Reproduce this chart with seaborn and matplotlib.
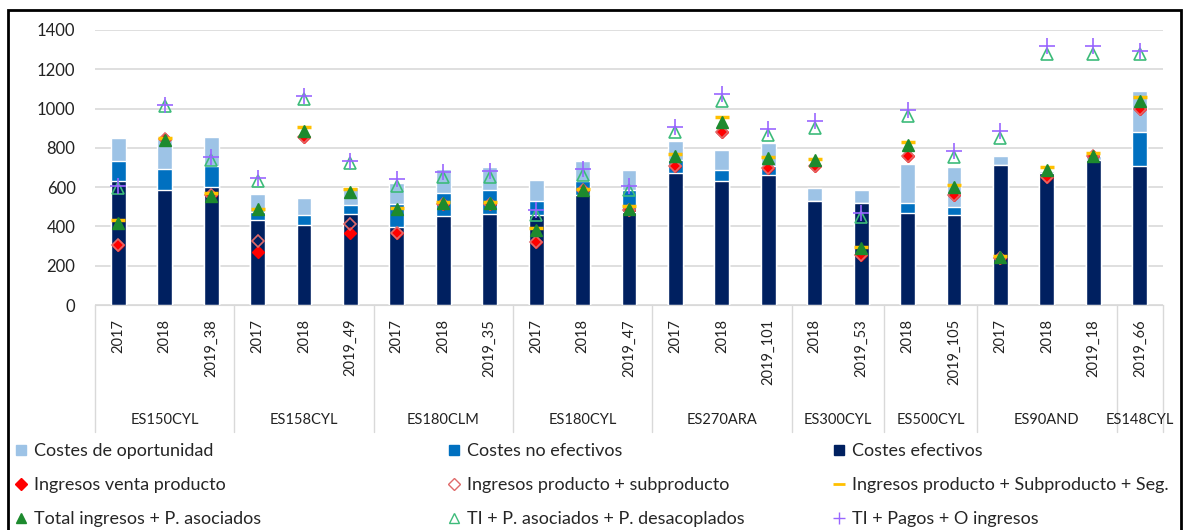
import numpy as np
import pandas as pd
import seaborn as sns
import matplotlib.pyplot as plt
from matplotlib.lines import Line2D
from matplotlib.patches import Rectangle
import matplotlib.transforms as mtransforms

# Datos
grupos = ['ES150CYL', 'ES158CYL', 'ES180CLM', 'ES180CYL', 'ES270ARA',
          'ES300CYL', 'ES500CYL', 'ES90AND', 'ES148CYL']
n_por_grupo = [3, 3, 3, 3, 3, 2, 2, 3, 1]
anios = ['2017', '2018', '2019_38', '2017', '2018', '2019_49',
         '2017', '2018', '2019_35', '2017', '2018', '2019_47',
         '2017', '2018', '2019_101', '2018', '2019_53', '2018', '2019_105',
         '2017', '2018', '2019_18', '2019_66']

costes_efectivos = [631, 583, 600, 435, 407, 463, 397, 452, 465, 457, 562, 473,
                    673, 631, 660, 528, 521, 470, 458, 715, 671, 739, 707]
costes_no_efectivos = [101, 107, 110, 38, 51, 47, 115, 118, 122, 72, 69, 114,
                       63, 57, 50, 0, 0, 47, 42, 0, 0, 0, 176]
costes_oportunidad = [117, 155, 147, 94, 85, 90, 108, 123, 115, 105, 101, 101,
                      98, 103, 114, 69, 64, 202, 205, 46, 12, 18, 208]

ingresos_venta = [304, 843, 562, 271, 857, 368, 369, 515, 515, 321, 585, 486,
                  710, 879, 699, 710, 254, 761, 558, 237, 654, 758, 998]
ingresos_prod_sub = [304, 843, 562, 325, 857, 412, 369, 515, 515, 321, 585, 486,
                     710, 879, 699, 710, 254, 761, 558, 237, 654, 758, 998]
ingresos_seg = [431, 850, 570, 490, 907, 590, 495, 522, 522, 394, 592, 502,
                770, 955, 755, 745, 295, 830, 610, 250, 702, 772, 1057]
total_pa = [420, 838, 555, 487, 887, 577, 490, 519, 519, 384, 587, 490,
            761, 930, 749, 736, 288, 817, 600, 246, 685, 761, 1040]
ti_desacoplados = [598, 1012, 736, 631, 1051, 721, 604, 651, 651, 457, 660, 583,
                   879, 1040, 863, 901, 449, 964, 756, 851, 1277, 1277, 1277]
ti_pagos = [604, 1020, 756, 645, 1065, 735, 639, 676, 680, 482, 693, 604,
            908, 1074, 896, 939, 466, 993, 783, 888, 1319, 1319, 1294]

df = pd.DataFrame({
    'pos': np.arange(len(anios)),
    'efectivos': costes_efectivos,
    'no_efectivos': costes_no_efectivos,
    'oportunidad': costes_oportunidad,
})
df['nivel2'] = df['efectivos'] + df['no_efectivos']
df['nivel3'] = df['nivel2'] + df['oportunidad']

c_oport = '#9dc3e6'
c_noef = '#0070c0'
c_ef = '#002060'

sns.set_style('white')
plt.rcParams['font.family'] = ['Lato', 'DejaVu Sans']

fig = plt.figure(figsize=(11.86, 5.30), dpi=100)
ax = fig.add_axes([95 / 1186, 1 - 305 / 530, (1163 - 95) / 1186, 275 / 530])

ax.yaxis.grid(True, color='#d9d9d9', linewidth=1.2)
ax.set_axisbelow(True)

bw = 0.32
sns.barplot(data=df, x='pos', y='nivel3', color=c_oport, width=bw,
            saturation=1, ax=ax)
sns.barplot(data=df, x='pos', y='nivel2', color=c_noef, width=bw,
            saturation=1, ax=ax)
sns.barplot(data=df, x='pos', y='efectivos', color=c_ef, width=bw,
            saturation=1, ax=ax)

x = df['pos'].values
ax.plot(x, ingresos_venta, 'D', color='#ff0000', markersize=6.5, ls='none')
ax.plot(x, ingresos_prod_sub, 'D', mfc='none', mec='#e06a6a', mew=1.2,
        markersize=6.5, ls='none')
ax.plot(x, ingresos_seg, '_', color='#ffc000', markersize=10, mew=2.5, ls='none')
ax.plot(x, total_pa, '^', color='#1d8a2e', markersize=8, ls='none')
ax.plot(x, ti_desacoplados, '^', mfc='none', mec='#3dbb7a', mew=1.2,
        markersize=9, ls='none')
ax.plot(x, ti_pagos, '+', color='#9966ff', markersize=11, mew=1.2, ls='none')

ax.set_xlim(-0.5, len(anios) - 0.5)
ax.set_ylim(0, 1400)
ax.set_yticks(range(0, 1401, 200))
ax.tick_params(axis='y', length=0, labelsize=12, pad=14, labelcolor='#222222')
ax.set_xticks(x)
ax.set_xticklabels(anios, rotation=90, fontsize=10.5, color='#222222')
ax.tick_params(axis='x', length=0, pad=10)
ax.set_xlabel('')
ax.set_ylabel('')
for s in ['left', 'right', 'top']:
    ax.spines[s].set_visible(False)
ax.spines['bottom'].set_color('#d9d9d9')

# separadores y etiquetas de grupo
trans = mtransforms.blended_transform_factory(ax.transData, ax.transAxes)
bordes = np.concatenate([[0], np.cumsum(n_por_grupo)]) - 0.5
for b in bordes:
    ax.plot([b, b], [0, -0.46], color='#d9d9d9', lw=1, transform=trans,
            clip_on=False)
for g, a, b in zip(grupos, bordes[:-1], bordes[1:]):
    ax.text((a + b) / 2, -0.42, g, transform=trans, ha='center', va='center',
            fontsize=10.5, color='#222222')

# leyenda en tres columnas
h_col1 = [Line2D([], [], marker='s', color=c_oport, ls='none', markersize=7),
          Line2D([], [], marker='D', color='#ff0000', ls='none', markersize=6),
          Line2D([], [], marker='^', color='#1d8a2e', ls='none', markersize=7)]
l_col1 = ['Costes de oportunidad', 'Ingresos venta producto',
          'Total ingresos + P. asociados']
h_col2 = [Line2D([], [], marker='s', color=c_noef, ls='none', markersize=7),
          Line2D([], [], marker='D', mfc='none', mec='#e06a6a', ls='none',
                 markersize=6),
          Line2D([], [], marker='^', mfc='none', mec='#3dbb7a', ls='none',
                 markersize=7)]
l_col2 = ['Costes no efectivos', 'Ingresos producto + subproducto',
          'TI + P. asociados + P. desacoplados']
h_col3 = [Line2D([], [], marker='s', color=c_ef, ls='none', markersize=7),
          Line2D([], [], marker='_', color='#ffc000', ls='none', markersize=8,
                 mew=2),
          Line2D([], [], marker='+', color='#9966ff', ls='none', markersize=9)]
l_col3 = ['Costes efectivos', 'Ingresos producto + Subproducto + Seg.',
          'TI + Pagos + O ingresos']

for hs, ls_, x0 in [(h_col1, l_col1, 14), (h_col2, l_col2, 447),
                    (h_col3, l_col3, 832)]:
    fig.legend(hs, ls_, loc='upper left', bbox_to_anchor=(x0 / 1186, 1 - 443 / 530),
               frameon=False, fontsize=13, handlelength=0.8, handletextpad=0.3,
               labelspacing=1.0, borderaxespad=0, borderpad=0)

fig.add_artist(Rectangle((8 / 1186, -0.01), (1181 - 8) / 1186, 1 - 10 / 530 + 0.01,
                         transform=fig.transFigure, fill=False, ec='black',
                         lw=2))

fig.savefig('out.png', dpi=100)
